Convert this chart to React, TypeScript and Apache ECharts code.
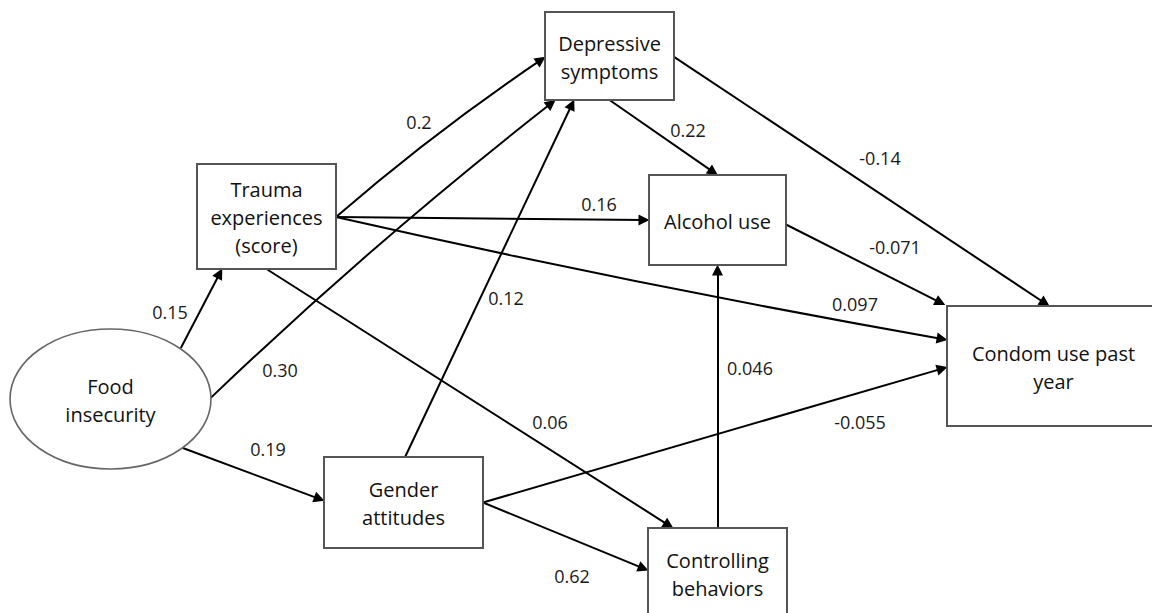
import React, { useEffect, useRef } from "react";
import * as echarts from "echarts";

// ---------- data ----------
const NODE_IDS = ["food", "trauma", "depressive", "alcohol", "gender", "controlling", "condom"];
const NODE_TEXT = [
  "Food\ninsecurity",
  "Trauma\nexperiences\n(score)",
  "Depressive\nsymptoms",
  "Alcohol use",
  "Gender\nattitudes",
  "Controlling\nbehaviors",
  "Condom use past\nyear",
];
const NODE_KIND = ["latent", "observed", "observed", "observed", "observed", "observed", "observed"];

const EDGE_FROM = ["food", "food", "food", "trauma", "trauma", "trauma", "trauma", "depressive", "depressive", "alcohol", "gender", "gender", "gender", "controlling"];
const EDGE_TO = ["trauma", "depressive", "gender", "depressive", "alcohol", "condom", "controlling", "alcohol", "condom", "condom", "depressive", "condom", "controlling", "alcohol"];
const EDGE_COEF = ["0.15", "0.30", "0.19", "0.2", "0.16", "0.097", "0.06", "0.22", "-0.14", "-0.071", "0.12", "-0.055", "0.62", "0.046"];

// ---------- layout (pixel space of the 1152x613 canvas) ----------
const NODE_BOX: Record<string, [number, number, number, number]> = {
  food: [10, 329, 201, 140],
  trauma: [197, 164, 139, 105],
  depressive: [545, 12, 129, 88],
  alcohol: [649, 175, 137, 90],
  gender: [324, 457, 159, 91],
  controlling: [648, 528, 139, 90],
  condom: [947, 306, 213, 120],
};
// [from fx, from fy, to fx, to fy] as fractions of the node boxes
const EDGE_PORTS: [number, number, number, number][] = [
  [0.85, 0.136, 0.18, 1],
  [1.0, 0.49, 0.078, 1],
  [0.86, 0.85, 0, 0.48],
  [1, 0.505, 0, 0.51],
  [1, 0.505, 0, 0.5],
  [1, 0.505, 0, 0.283],
  [0.5, 1, 0.18, 0],
  [0.5, 1, 0.5, 0],
  [1, 0.51, 0.48, 0],
  [1, 0.55, -0.01, -0.01],
  [0.51, 0, 0.225, 1],
  [1, 0.5, 0, 0.51],
  [1, 0.5, 0, 0.47],
  [0.5, 0, 0.5, 1],
];
const EDGE_CURVE = [0, 0.025, 0, 0.03, 0, -0.012, 0, 0, 0, 0, 0, 0, 0, 0];
const LABEL_POS: [number, number][] = [
  [170, 312], [280, 370], [268, 449], [419, 122], [599, 204], [855, 304], [550, 422],
  [688, 130], [880, 158], [895, 247], [506, 298], [860, 422], [572, 576], [750, 368],
];

const FONT = "'Open Sans', 'Noto Sans', sans-serif";

function portPoint(id: string, fx: number, fy: number): [number, number] {
  const b = NODE_BOX[id];
  return [b[0] + b[2] * fx, b[1] + b[3] * fy];
}

export default function App() {
  const ref = useRef<HTMLDivElement>(null);
  useEffect(() => {
    if (!ref.current) return;
    const chart = echarts.init(ref.current, undefined, { renderer: "svg" });

    const nodeData = NODE_IDS.map((id, i) => {
      const b = NODE_BOX[id];
      return [b[0], b[1], b[2], b[3], i];
    });

    const edgeData = EDGE_FROM.map((from, i) => {
      const p = EDGE_PORTS[i];
      const a = portPoint(from, p[0], p[1]);
      const e = portPoint(EDGE_TO[i], p[2], p[3]);
      const dx = e[0] - a[0];
      const dy = e[1] - a[1];
      const len = Math.sqrt(dx * dx + dy * dy);
      const back = 5;
      const end: [number, number] = [e[0] - (dx / len) * back, e[1] - (dy / len) * back];
      return { coords: [a, end], lineStyle: { curveness: EDGE_CURVE[i] } };
    });

    const labelData = EDGE_COEF.map((c, i) => [LABEL_POS[i][0], LABEL_POS[i][1], i]);

    chart.setOption({
      animation: false,
      backgroundColor: "#ffffff",
      grid: { left: 0, right: 0, top: 0, bottom: 0 },
      xAxis: { type: "value", min: 0, max: 1152, show: false },
      yAxis: { type: "value", min: 0, max: 613, inverse: true, show: false },
      series: [
        {
          type: "lines",
          coordinateSystem: "cartesian2d",
          polyline: false,
          symbol: ["none", "triangle"],
          symbolSize: [9, 11],
          lineStyle: { color: "#000000", width: 2, opacity: 1 },
          data: edgeData,
          z: 2,
        },
        {
          type: "custom",
          coordinateSystem: "cartesian2d",
          data: nodeData,
          z: 3,
          renderItem: (params: any, api: any) => {
            const x = api.value(0);
            const y = api.value(1);
            const w = api.value(2);
            const h = api.value(3);
            const idx = api.value(4);
            const p0 = api.coord([x, y]);
            const p1 = api.coord([x + w, y + h]);
            const cx = (p0[0] + p1[0]) / 2;
            const cy = (p0[1] + p1[1]) / 2;
            const shape =
              NODE_KIND[idx] === "latent"
                ? {
                    type: "ellipse",
                    shape: { cx, cy, rx: (p1[0] - p0[0]) / 2, ry: (p1[1] - p0[1]) / 2 },
                    style: { fill: "#ffffff", stroke: "#666666", lineWidth: 1.6 },
                  }
                : {
                    type: "rect",
                    shape: { x: p0[0], y: p0[1], width: p1[0] - p0[0], height: p1[1] - p0[1] },
                    style: { fill: "#ffffff", stroke: "#555555", lineWidth: 2 },
                  };
            return {
              type: "group",
              children: [
                shape,
                {
                  type: "text",
                  style: {
                    text: NODE_TEXT[idx],
                    x: cx,
                    y: cy + 1,
                    align: "center",
                    verticalAlign: "middle",
                    fontSize: 20,
                    fontFamily: FONT,
                    lineHeight: 28,
                    fill: "#111111",
                  },
                },
              ],
            };
          },
        },
        {
          type: "custom",
          coordinateSystem: "cartesian2d",
          data: labelData,
          z: 4,
          renderItem: (params: any, api: any) => {
            const p = api.coord([api.value(0), api.value(1)]);
            const idx = api.value(2);
            return {
              type: "text",
              style: {
                text: EDGE_COEF[idx],
                x: p[0],
                y: p[1],
                align: "center",
                verticalAlign: "middle",
                fontSize: 18,
                fontFamily: FONT,
                fill: "#1a1a1a",
              },
            };
          },
        },
      ],
    });
    return () => chart.dispose();
  }, []);

  return (
    <div
      ref={ref}
      style={{ position: "absolute", left: 0, top: 0, width: 1152, height: 613, background: "#fff" }}
    />
  );
}
